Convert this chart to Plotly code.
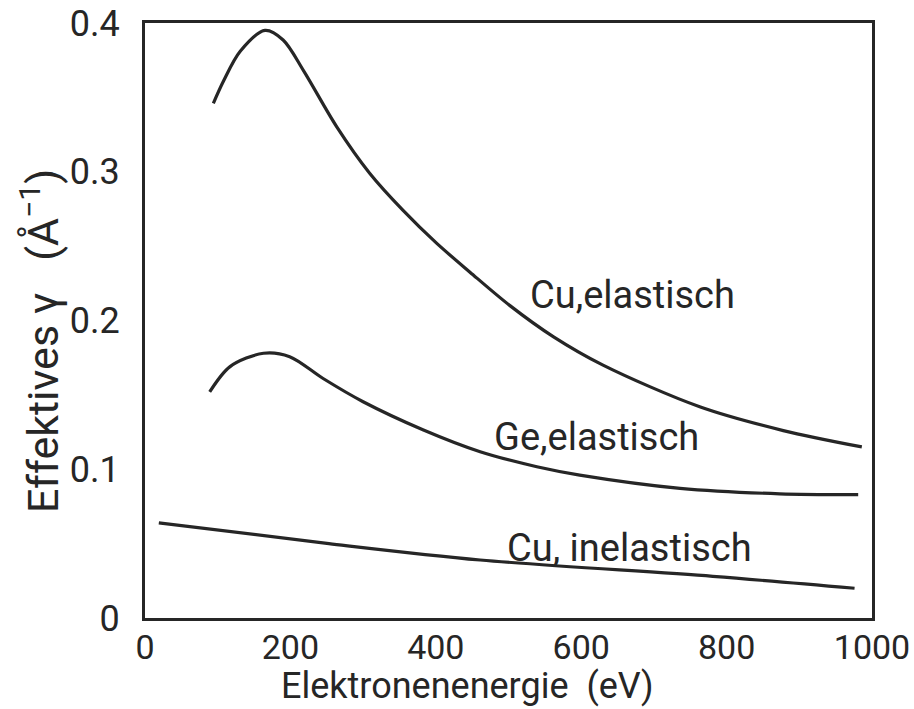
import plotly.graph_objects as go

# Electron energy (eV) and effective gamma (1/Å) for each curve
cu_el_energy = [94, 108, 131, 165, 190, 218, 264, 309, 355, 401, 447, 502, 562, 630, 763, 878, 986]
cu_el_gamma = [0.346, 0.361, 0.381, 0.395, 0.3886, 0.368, 0.330, 0.299, 0.274, 0.252, 0.2325, 0.210, 0.189, 0.170, 0.142, 0.126, 0.115]

ge_el_energy = [89, 117, 163, 199, 245, 300, 383, 461, 539, 598, 736, 873, 981]
ge_el_gamma = [0.152, 0.169, 0.178, 0.1757, 0.161, 0.1454, 0.1264, 0.1118, 0.1017, 0.0961, 0.0872, 0.0835, 0.0830]

cu_inel_energy = [19, 253, 461, 781, 976]
cu_inel_gamma = [0.064, 0.050, 0.039, 0.028, 0.020]

x_ticks = [0, 200, 400, 600, 800, 1000]
x_tick_text = ["0", "200", "400", "600", "800", "1000"]
y_ticks = [0, 0.1, 0.2, 0.3, 0.4]
y_tick_text = ["0", "0.1", "0.2", "0.3", "0.4"]

labels = ["Cu,elastisch", "Ge,elastisch", "Cu, inelastisch"]
label_x = [671, 621, 667]
label_y = [0.2172, 0.1215, 0.0468]

INK = "#262626"
FONT = "Roboto, DejaVu Sans, sans-serif"

fig = go.Figure()
for xs, ys in [(cu_el_energy, cu_el_gamma), (ge_el_energy, ge_el_gamma), (cu_inel_energy, cu_inel_gamma)]:
    fig.add_trace(go.Scatter(
        x=xs, y=ys, mode="lines",
        line=dict(color=INK, width=3.2, shape="spline", smoothing=0.9),
        showlegend=False, hoverinfo="skip",
    ))

# curve labels
for text, lx, ly in zip(labels, label_x, label_y):
    fig.add_annotation(x=lx, y=ly, text=text, showarrow=False,
                       font=dict(family=FONT, size=38, color=INK),
                       xanchor="center", yanchor="middle")

# axis titles
fig.add_annotation(xref="paper", yref="paper", x=0.443, y=-0.1143,
                   text="Elektronenenergie  (eV)", showarrow=False,
                   font=dict(family=FONT, size=36, color=INK),
                   xanchor="center", yanchor="middle")
fig.add_annotation(xref="paper", yref="paper", x=-0.1444, y=0.4655,
                   text="Effektives γ&nbsp;&nbsp;&nbsp;(Å<sup>−1</sup>)", showarrow=False, textangle=-90,
                   font=dict(family=FONT, size=43, color=INK),
                   xanchor="center", yanchor="middle")

fig.update_layout(
    width=914, height=709,
    margin=dict(l=145, r=42, t=23, b=91, autoexpand=False),
    paper_bgcolor="white", plot_bgcolor="white",
    font=dict(family=FONT, color=INK),
)
fig.update_xaxes(
    range=[0, 1000], tickvals=x_ticks, ticktext=x_tick_text,
    showgrid=False, zeroline=False, ticks="", automargin=False,
    showline=True, linecolor=INK, linewidth=3, mirror=True,
    tickfont=dict(family=FONT, size=34, color=INK),
    ticklabeloverflow="allow", ticklabelstandoff=-3,
)
fig.update_yaxes(
    range=[0, 0.4], tickvals=y_ticks, ticktext=y_tick_text,
    showgrid=False, zeroline=False, ticks="", automargin=False,
    showline=True, linecolor=INK, linewidth=3, mirror=True,
    tickfont=dict(family=FONT, size=36, color=INK),
    ticklabelstandoff=15, ticklabeloverflow="allow",
)

fig.write_html("out.html")
